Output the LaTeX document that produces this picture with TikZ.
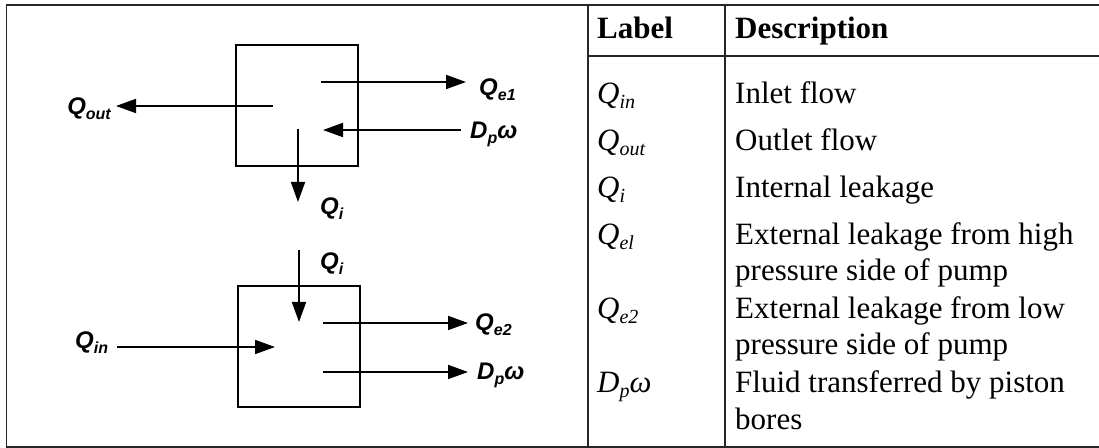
\documentclass[tikz,border=0pt]{standalone}
\usepackage{fontspec}
\setmainfont{Liberation Serif}
\setsansfont{Liberation Sans}
\usetikzlibrary{arrows.meta}
\newcommand\ssub[2]{#1\raisebox{-5bp}{\fontsize{16bp}{16bp}\selectfont #2}}
\newcommand\tsub[2]{#1\raisebox{-5bp}{\fontsize{20bp}{20bp}\selectfont #2}}
\begin{document}
\begin{tikzpicture}[x=1bp,y=-1bp,
  framest/.style={line width=1.6bp, draw=black!85},
  boxst/.style={draw, line width=2bp, inner sep=0pt, minimum width=122bp, minimum height=121bp},
  arr/.style={line width=1.8bp, -{Triangle[length=20bp,width=14bp]}},
  lbl/.style={inner sep=0pt, font=\sffamily\bfseries\itshape\fontsize{24bp}{24bp}\selectfont},
  cell/.style={inner sep=0pt, anchor=base west, font=\rmfamily\fontsize{31bp}{36bp}\selectfont},
  hcell/.style={cell, font=\rmfamily\bfseries\fontsize{31bp}{36bp}\selectfont},
  icell/.style={cell, font=\rmfamily\itshape\fontsize{31bp}{36bp}\selectfont}]
\useasboundingbox (0,0) rectangle (1099,448);
% frame and table rules
\coordinate (tl) at (6.5,5);
\coordinate (tr) at (1099,5);
\coordinate (bl) at (6.5,447);
\coordinate (br) at (1099,447);
\coordinate (c1t) at (588,5);
\coordinate (c1b) at (588,447);
\coordinate (c2t) at (725,5);
\coordinate (c2b) at (725,447);
\coordinate (hl) at (588,56);
\coordinate (hr) at (1099,56);
\draw[framest] (tr) -- (tl) -- (bl) -- (br);
\draw[framest] (c1t) -- (c1b);
\draw[framest] (c2t) -- (c2b);
\draw[framest] (hl) -- (hr);
% upper box
\node[boxst] (b1) at (297,105.5) {};
\coordinate (qe1s) at (321,82);
\coordinate (qe1t) at (466,82);
\coordinate (qouts) at (273,106);
\coordinate (qoutt) at (116,106);
\coordinate (dp1s) at (461,130);
\coordinate (dp1t) at (323,130);
\coordinate (qi1s) at (298,129);
\coordinate (qi1t) at (298,202);
\draw[arr] (qe1s) -- (qe1t);
\draw[arr] (qouts) -- (qoutt);
\draw[arr] (dp1s) -- (dp1t);
\draw[arr] (qi1s) -- (qi1t);
\node[lbl, anchor=base east] (lqout) at (111,115) {\ssub{Q}{out}};
\node[lbl, anchor=base west] (lqe1) at (479,96) {\ssub{Q}{e1}};
\node[lbl, anchor=base west] (ldp1) at (470,139) {\ssub{D}{p}ω};
\node[lbl, anchor=base west] (lqi1) at (320,215) {\ssub{Q}{i}};
% lower box
\node[boxst] (b2) at (298.5,347) {};
\coordinate (qi2s) at (299,250);
\coordinate (qi2t) at (299,322);
\coordinate (qins) at (117,347);
\coordinate (qint) at (275,347);
\coordinate (qe2s) at (323,323);
\coordinate (qe2t) at (468,323);
\coordinate (dp2s) at (323,372);
\coordinate (dp2t) at (468,372);
\draw[arr] (qi2s) -- (qi2t);
\draw[arr] (qins) -- (qint);
\draw[arr] (qe2s) -- (qe2t);
\draw[arr] (dp2s) -- (dp2t);
\node[lbl, anchor=base west] (lqi2) at (320,270) {\ssub{Q}{i}};
\node[lbl, anchor=base west] (lqin) at (75,349) {\ssub{Q}{in}};
\node[lbl, anchor=base west] (lqe2) at (475,331) {\ssub{Q}{e2}};
\node[lbl, anchor=base west] (ldp2) at (477,380) {\ssub{D}{p}ω};
% table text
\node[hcell] (hlab) at (597,39) {Label};
\node[hcell] (hdesc) at (735,39) {Description};
\node[icell] (t1) at (597,104) {\tsub{Q}{in}};
\node[cell] (d1) at (735,104) {Inlet flow};
\node[icell] (t2) at (597,151) {\tsub{Q}{out}};
\node[cell] (d2) at (735,151) {Outlet flow};
\node[icell] (t3) at (597,198) {\tsub{Q}{i}};
\node[cell] (d3) at (735,198) {Internal leakage};
\node[icell] (t4) at (597,245) {\tsub{Q}{el}};
\node[cell] (d4a) at (735,245) {External leakage from high};
\node[cell] (d4b) at (735,281) {pressure side of pump};
\node[icell] (t5) at (597,319) {\tsub{Q}{e2}};
\node[cell] (d5a) at (735,319) {External leakage from low};
\node[cell] (d5b) at (735,355) {pressure side of pump};
\node[icell] (t6) at (597,393) {\tsub{D}{p}ω};
\node[cell] (d6a) at (735,393) {Fluid transferred by piston};
\node[cell] (d6b) at (735,430) {bores};
\end{tikzpicture}
\end{document}
